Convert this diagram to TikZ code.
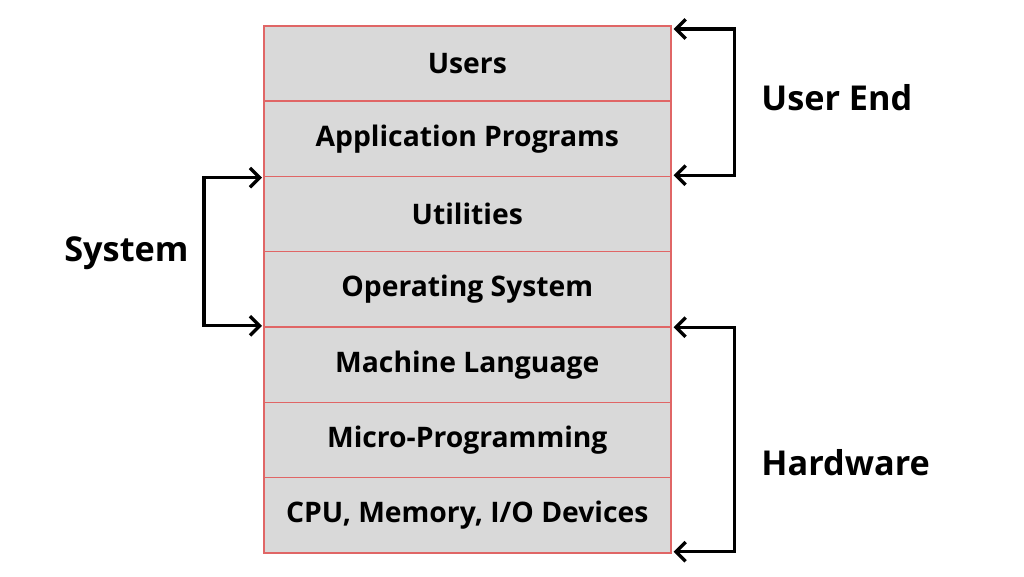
\documentclass[tikz,border=0pt]{standalone}
\usepackage{fontspec}
\setmainfont{Open Sans}
\usetikzlibrary{arrows.meta,calc}
\definecolor{boxfill}{HTML}{D9D9D9}
\definecolor{boxline}{HTML}{E06666}
\begin{document}
\begin{tikzpicture}[x=0.02cm,y=-0.02cm,
  layer/.style={draw=boxline,line width=0.9pt,fill=boxfill,minimum width=407*0.02cm,minimum height=75.3*0.02cm,inner sep=0pt,font=\bfseries\fontsize{16.1}{18}\selectfont,anchor=north west},
  lbl/.style={font=\bfseries\fontsize{19.5}{22}\selectfont,inner sep=0pt},
  brk/.style={line width=1.9pt,{Straight Barb[length=5.5pt,width=11pt]}-{Straight Barb[length=5.5pt,width=11pt]}}]
\useasboundingbox (0,0) rectangle (1024,576);
\node[layer] (r1) at (263,25) {Users};
\node[layer] (r2) at (263,100.3) {Application Programs};
\node[layer] (r3) at (263,175.6) {Utilities};
\node[layer] (r4) at (263,250.9) {Operating System};
\node[layer] (r5) at (263,326.2) {Machine Language};
\node[layer] (r6) at (263,401.5) {Micro-Programming};
\node[layer] (r7) at (263,476.8) {CPU, Memory, I/O Devices};
\node[lbl,anchor=west] (ue) at (761,98) {User End};
\node[lbl,anchor=west] (sy) at (64,253) {System};
\node[lbl,anchor=west] (hw) at (761,463) {Hardware};
\coordinate (a1) at ($(r1.north east)+(2,4)$);
\coordinate (a2) at ($(r2.south east)+(2,-2)$);
\coordinate (b1) at ($(r3.north west)+(-1,2)$);
\coordinate (b2) at ($(r4.south west)+(-1,-2)$);
\coordinate (c1) at ($(r5.north east)+(2,1)$);
\coordinate (c2) at ($(r7.south east)+(2,-2)$);
\draw[brk] (a1) -- ++(61,0) |- (a2);
\draw[brk] (b1) -- ++(-58,0) |- (b2);
\draw[brk] (c1) -- ++(61,0) |- (c2);
\end{tikzpicture}
\end{document}
